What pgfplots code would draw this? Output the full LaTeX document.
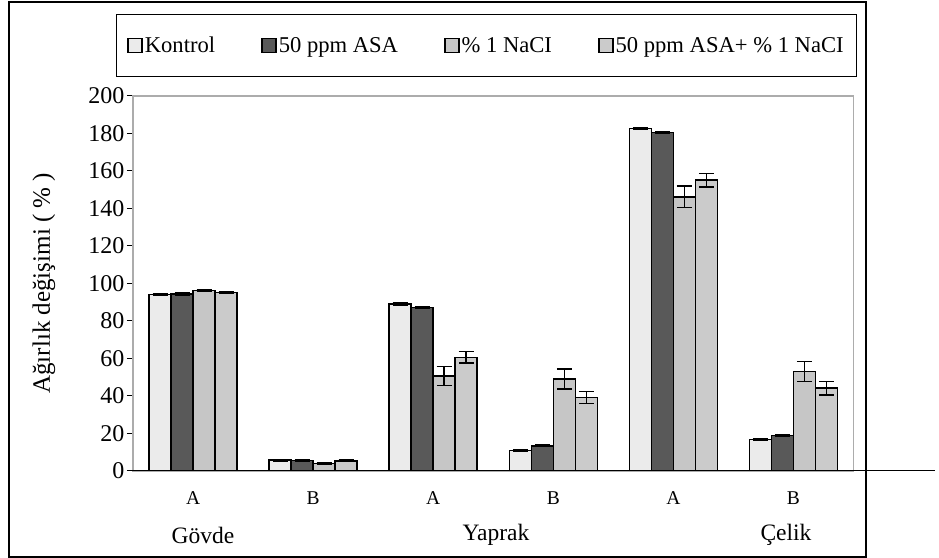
\documentclass[border=0pt]{standalone}
\usepackage{pgfplots}
\usepackage{pgfplotstable}
\pgfplotsset{compat=1.18}
\usepackage{fontspec}
\setmainfont{Liberation Serif}
\definecolor{cK}{HTML}{EBEBEB}
\definecolor{cA}{HTML}{595959}
\definecolor{cN}{HTML}{C6C6C6}
\definecolor{cC}{HTML}{CBCBCB}
\pgfplotstableread{
x k ke a ae n ne c ce
0 94.1 0.5 94.2 0.5 96.2 0.5 95.0 0.5
1 5.7 0.4 5.5 0.4 3.9 0.3 5.2 0.4
2 88.9 0.5 87.1 0.5 50.5 5.0 60.5 3.0
3 10.7 0.4 13.2 0.4 48.9 5.3 39.1 3.2
4 182.6 0.5 180.5 0.5 146.1 5.7 155.0 3.6
5 16.7 0.4 18.7 0.4 53.0 5.3 44.1 3.6
}\datatable
\begin{document}
\begin{tikzpicture}
\useasboundingbox (0,0) rectangle (939bp,-558bp);
\draw[black, line width=1.3bp] (9bp,-2bp) rectangle (866bp,-557bp);
\begin{axis}[
  scale only axis,
  width=720.5bp, height=375bp,
  at={(133bp,-470.7bp)}, anchor=south west,
  ybar=0pt, bar width=22bp,
  xmin=-0.5, xmax=5.5,
  ymin=0, ymax=200,
  ytick={0,20,...,200},
  xtick={0,1,2,3,4,5},
  xticklabels={A,B,A,B,A,B},
  x tick style={draw=none},
  y tick style={black, line width=0.8bp},
  tick align=outside,
  ytick pos=left,
  major tick length=6bp,
  axis line style={draw=gray!65, line width=1.6bp},
  font=\fontsize{22bp}{26bp}\selectfont,
  /pgf/number format/assume math mode=true,
  yticklabel style={font=\fontsize{24bp}{28bp}\selectfont, xshift=1bp},
  xticklabel style={font=\fontsize{19.5bp}{22bp}\selectfont, anchor=center, yshift=-21bp},
  ylabel={Ağırlık değişimi ( \% )},
  ylabel style={font=\fontsize{25bp}{28bp}\selectfont, at={(axis description cs:-0.1235,0.5)}, anchor=center},
  clip=false,
  error bars/y dir=both,
  error bars/y explicit,
  error bars/error bar style={line width=1.5bp, black},
  error bars/error mark options={rotate=90, mark size=7.5bp, line width=1.5bp, black},
  legend columns=4,
  legend style={at={(0.4906,1.1339)}, anchor=center, draw=black, line width=0.8bp,
    inner xsep=11bp, inner ysep=20.5bp,
    font=\fontsize{22.6bp}{26bp}\selectfont,
    cells={anchor=west},
    /tikz/every even column/.append style={column sep=44bp}},
  legend image code/.code={\draw[#1, line width=1.6bp] (0bp,-7bp) rectangle (14bp,7bp);},
]
\addplot[fill=cK, draw=black, line width=1.5bp] table[x=x, y=k, y error=ke] \datatable;
\addplot[fill=cA, draw=black, line width=1.5bp] table[x=x, y=a, y error=ae] \datatable;
\addplot[fill=cN, draw=black, line width=1.5bp] table[x=x, y=n, y error=ne] \datatable;
\addplot[fill=cC, draw=black, line width=1.5bp] table[x=x, y=c, y error=ce] \datatable;
\legend{Kontrol, 50 ppm ASA, \% 1 NaCI, 50 ppm ASA+ \% 1 NaCI}
\end{axis}
\draw[black, line width=1.5bp] (130bp,-470.7bp) -- (935bp,-470.7bp);
\node[font=\fontsize{23.5bp}{26bp}\selectfont] at (203bp,-535bp) {Gövde};
\node[font=\fontsize{23.5bp}{26bp}\selectfont] at (496bp,-535bp) {Yaprak};
\node[font=\fontsize{23.5bp}{26bp}\selectfont] at (786bp,-535bp) {Çelik};
\end{tikzpicture}
\end{document}
